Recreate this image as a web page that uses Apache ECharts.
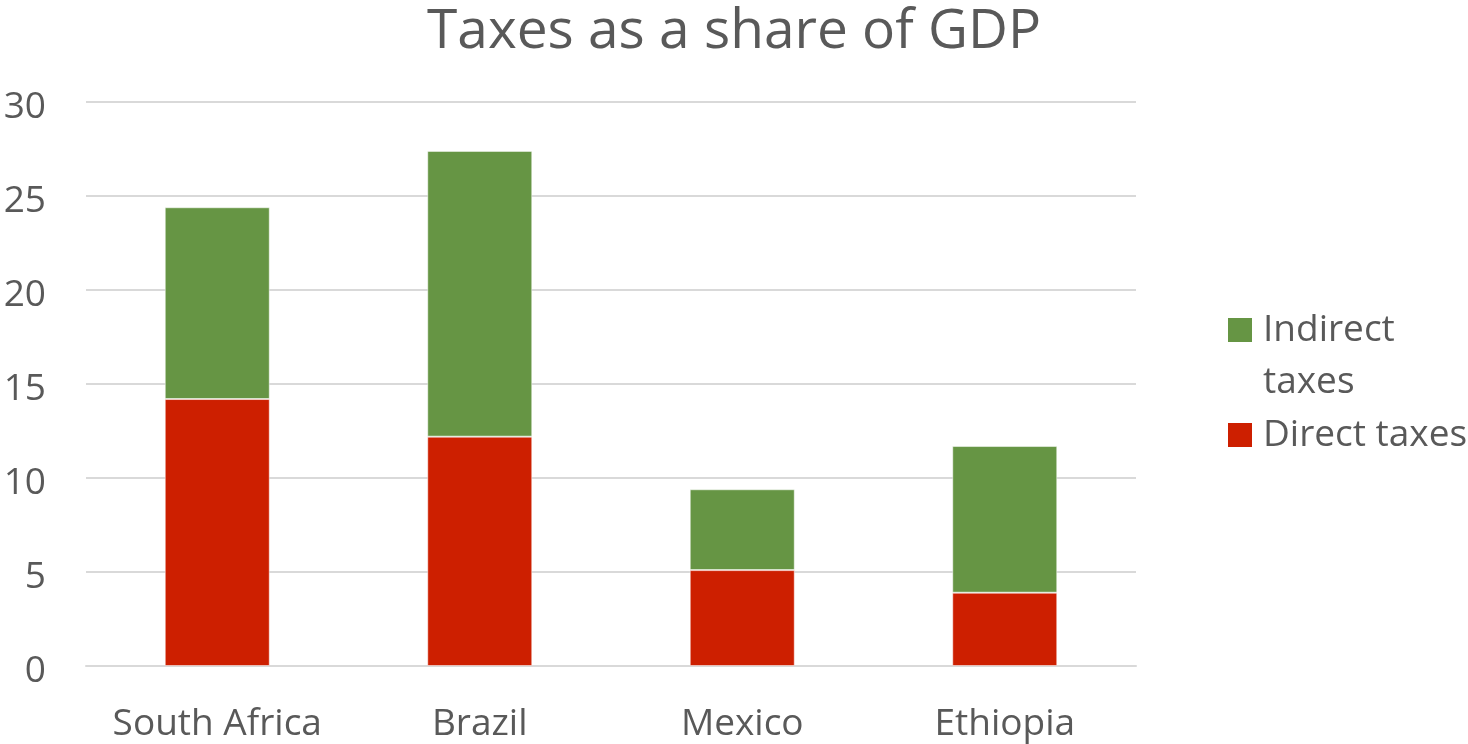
<!DOCTYPE html>
<html>
<head>
<meta charset="utf-8">
<style>
  html, body { margin: 0; padding: 0; background: #fff; }
  #chart { width: 1468px; height: 744px; }
</style>
<script src="https://cdn.jsdelivr.net/npm/echarts@6/dist/echarts.min.js"></script>
</head>
<body>
<div id="chart"></div>
<script>
// Tax revenue split by type, percent of GDP
const countries = ['South Africa', 'Brazil', 'Mexico', 'Ethiopia'];
const directTaxes = [14.2, 12.2, 5.1, 3.9];
const indirectTaxes = [10.2, 15.2, 4.3, 7.8];
const yTicks = [0, 5, 10, 15, 20, 25, 30];

const FONT = '"Open Sans", "Noto Sans", sans-serif';
const TEXT = '#595959';
const GREEN = '#669544';
const RED = '#CD1F00';

const chart = echarts.init(document.getElementById('chart'));

const legendText = {
  color: TEXT,
  fontFamily: FONT,
  fontSize: 37,
  lineHeight: 52
};

// Square swatch drawn at the top of the icon box; the extra move-to point widens
// the box so the label sits a little further right and, for the two-line label,
// lines up its first line with the swatch.
const swatchTall = 'path://M0,0h24v24h-24zM30,76';
const swatchShort = 'path://M0,0h24v24h-24zM30,24';

chart.setOption({
  animation: false,
  backgroundColor: '#fff',
  title: {
    text: 'Taxes as a share of GDP',
    left: 'center',
    top: 0,
    textStyle: { color: TEXT, fontFamily: FONT, fontSize: 55, fontWeight: 'normal' }
  },
  grid: { left: 86, right: 332, top: 102, bottom: 78 },
  legend: [
    {
      data: ['Indirect taxes'],
      orient: 'vertical',
      left: 1228,
      top: 304,
      padding: 0,
      itemWidth: 30,
      itemHeight: 76,
      icon: swatchTall,
      itemStyle: { borderWidth: 0 },
      formatter: () => 'Indirect\ntaxes',
      textStyle: legendText,
      align: 'left'
    },
    {
      data: ['Direct taxes'],
      orient: 'vertical',
      left: 1228,
      top: 409,
      padding: 0,
      itemWidth: 30,
      itemHeight: 24,
      icon: swatchShort,
      itemStyle: { borderWidth: 0 },
      textStyle: legendText,
      align: 'left'
    }
  ],
  xAxis: {
    type: 'category',
    data: countries,
    axisTick: { show: false },
    axisLine: { show: true, lineStyle: { color: '#d9d9d9', width: 2 } },
    axisLabel: { color: TEXT, fontFamily: FONT, fontSize: 37, margin: 40, interval: 0 }
  },
  yAxis: {
    type: 'value',
    min: yTicks[0],
    max: yTicks[yTicks.length - 1],
    interval: yTicks[1] - yTicks[0],
    axisLine: { show: false },
    axisTick: { show: false },
    splitLine: { lineStyle: { color: '#d9d9d9', width: 2 } },
    axisLabel: {
      margin: 40,
      formatter: '{v|{value}}',
      rich: {
        // top padding nudges each number slightly below its gridline
        v: { color: TEXT, fontFamily: FONT, fontSize: 37, padding: [10, 0, 0, 0] }
      }
    }
  },
  series: [
    {
      name: 'Direct taxes',
      type: 'bar',
      stack: 'total',
      data: directTaxes,
      barWidth: '40%',
      itemStyle: { color: RED, borderColor: 'rgba(255,255,255,0.5)', borderWidth: 1 }
    },
    {
      name: 'Indirect taxes',
      type: 'bar',
      stack: 'total',
      data: indirectTaxes,
      barWidth: '40%',
      itemStyle: { color: GREEN, borderColor: 'rgba(255,255,255,0.5)', borderWidth: 1 }
    }
  ]
});
</script>
</body>
</html>
